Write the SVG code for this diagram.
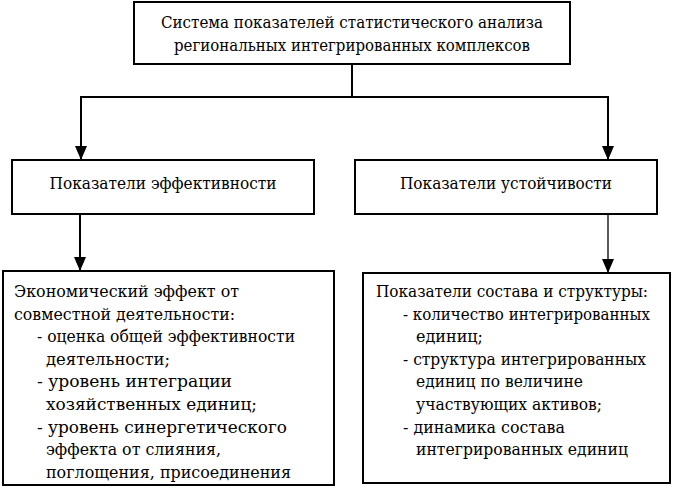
<svg xmlns="http://www.w3.org/2000/svg" width="673" height="490" viewBox="0 0 673 490">
<style>
.box{fill:#fff;stroke:#000;stroke-width:2}
.t{font-family:"DejaVu Serif",serif;font-size:17px;fill:#000}
.s{font-size:16px}
.c{text-anchor:middle}
.ln{stroke:#000;stroke-width:2;fill:none}
</style>
<defs>
<marker id="ah" markerUnits="userSpaceOnUse" markerWidth="15" markerHeight="12" refX="14" refY="6" orient="auto" viewBox="0 0 15 12">
<path d="M0,0 L14,6 L0,12 Z" fill="#000"/>
</marker>
</defs>
<g id="connectors">
<path class="ln" d="M352,64 V97"/>
<path class="ln" d="M81,97 H608"/>
<path class="ln" d="M81,96 V160" marker-end="url(#ah)"/>
<path class="ln" d="M608,96 V160" marker-end="url(#ah)"/>
<path class="ln" d="M80,214 V271" marker-end="url(#ah)"/>
<path class="ln" style="stroke-width:1.3" d="M608,214 V273" marker-end="url(#ah)"/>
</g>
<g id="top">
<rect class="box" x="134" y="2" width="436" height="62"/>
<text class="t c" x="352" y="28" textLength="382" lengthAdjust="spacingAndGlyphs">Система показателей статистического анализа</text>
<text class="t c" x="352" y="51" textLength="356" lengthAdjust="spacingAndGlyphs">региональных интегрированных комплексов</text>
</g>
<g id="eff">
<rect class="box" x="12" y="160" width="302" height="54"/>
<text class="t c" x="163" y="189" textLength="227" lengthAdjust="spacingAndGlyphs">Показатели эффективности</text>
</g>
<g id="ust">
<rect class="box" x="355" y="160" width="302" height="54"/>
<text class="t c" x="506" y="189" textLength="212" lengthAdjust="spacingAndGlyphs">Показатели устойчивости</text>
</g>
<g id="effdet">
<rect class="box" x="3" y="271" width="331" height="214"/>
<text class="t" x="14" y="297" textLength="225" lengthAdjust="spacingAndGlyphs">Экономический эффект от</text>
<text class="t" x="14" y="319.6" textLength="221" lengthAdjust="spacingAndGlyphs">совместной деятельности:</text>
<text class="t" x="37" y="342.2" textLength="258" lengthAdjust="spacingAndGlyphs">- оценка общей эффективности</text>
<text class="t" x="46" y="364.8" textLength="124" lengthAdjust="spacingAndGlyphs">деятельности;</text>
<text class="t" x="37" y="387.4" textLength="195" lengthAdjust="spacingAndGlyphs">- уровень интеграции</text>
<text class="t" x="46" y="410" textLength="211" lengthAdjust="spacingAndGlyphs">хозяйственных единиц;</text>
<text class="t" x="37" y="432.6" textLength="250" lengthAdjust="spacingAndGlyphs">- уровень синергетического</text>
<text class="t" x="46" y="455.2" textLength="175" lengthAdjust="spacingAndGlyphs">эффекта от слияния,</text>
<text class="t" x="46" y="477.8" textLength="245" lengthAdjust="spacingAndGlyphs">поглощения, присоединения</text>
</g>
<g id="ustdet">
<rect class="box" x="363" y="273" width="307" height="210"/>
<text class="t s" x="376" y="297" textLength="272" lengthAdjust="spacingAndGlyphs">Показатели состава и структуры:</text>
<text class="t s" x="403" y="319.6" textLength="247" lengthAdjust="spacingAndGlyphs">- количество интегрированных</text>
<text class="t" x="416" y="342.2" textLength="67" lengthAdjust="spacingAndGlyphs">единиц;</text>
<text class="t" x="403" y="364.8" textLength="243" lengthAdjust="spacingAndGlyphs">- структура интегрированных</text>
<text class="t" x="416" y="387.4" textLength="167" lengthAdjust="spacingAndGlyphs">единиц по величине</text>
<text class="t" x="416" y="410" textLength="186" lengthAdjust="spacingAndGlyphs">участвующих активов;</text>
<text class="t" x="403" y="432.6" textLength="162" lengthAdjust="spacingAndGlyphs">- динамика состава</text>
<text class="t" x="416" y="455.2" textLength="212" lengthAdjust="spacingAndGlyphs">интегрированных единиц</text>
</g>
</svg>
